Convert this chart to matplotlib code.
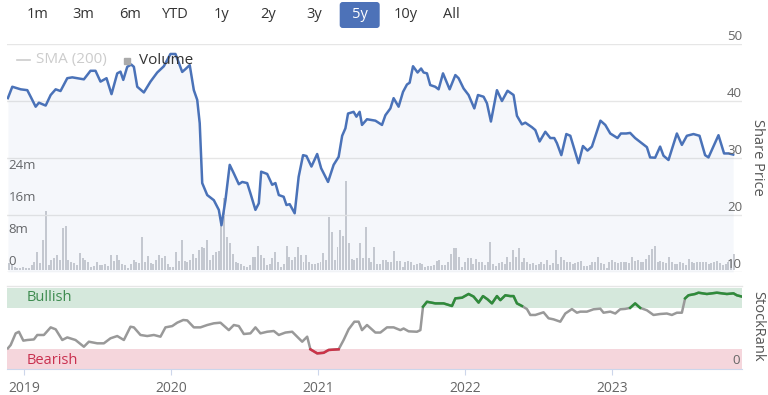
import numpy as np
import matplotlib.pyplot as plt
from matplotlib.lines import Line2D
from matplotlib.patches import FancyBboxPatch
from matplotlib.transforms import Affine2D, blended_transform_factory, offset_copy

plt.rcParams["font.family"] = ["Open Sans", "DejaVu Sans"]

RANGE_BUTTONS = ["1m", "3m", "6m", "YTD", "1y", "2y", "3y", "5y", "10y", "All"]
SELECTED_RANGE = "5y"

# share price, x in decimal years
price_years = [
    2018.891, 2018.921, 2018.978, 2019.023, 2019.046, 2019.080, 2019.102, 2019.148, 2019.182, 2019.216,
    2019.249, 2019.295, 2019.329, 2019.408, 2019.453, 2019.487, 2019.521, 2019.562, 2019.596, 2019.635,
    2019.657, 2019.676, 2019.703, 2019.730, 2019.748, 2019.771, 2019.816, 2019.861, 2019.907, 2019.952,
    2019.997, 2020.031, 2020.077, 2020.099, 2020.128, 2020.156, 2020.179, 2020.196, 2020.213, 2020.247,
    2020.292, 2020.326, 2020.344, 2020.371, 2020.400, 2020.428, 2020.462, 2020.485, 2020.519, 2020.541,
    2020.575, 2020.598, 2020.614, 2020.655, 2020.689, 2020.711, 2020.734, 2020.767, 2020.786, 2020.808,
    2020.842, 2020.869, 2020.899, 2020.922, 2020.956, 2020.995, 2021.022, 2021.069, 2021.107, 2021.141,
    2021.165, 2021.187, 2021.205, 2021.243, 2021.262, 2021.284, 2021.300, 2021.334, 2021.391, 2021.436,
    2021.459, 2021.493, 2021.515, 2021.549, 2021.579, 2021.606, 2021.624, 2021.647, 2021.678, 2021.702,
    2021.719, 2021.742, 2021.764, 2021.798, 2021.821, 2021.851, 2021.896, 2021.935, 2021.957, 2021.991,
    2022.025, 2022.064, 2022.089, 2022.127, 2022.150, 2022.177, 2022.218, 2022.252, 2022.290, 2022.331,
    2022.354, 2022.388, 2022.411, 2022.456, 2022.479, 2022.508, 2022.547, 2022.581, 2022.608, 2022.626,
    2022.656, 2022.690, 2022.717, 2022.773, 2022.803, 2022.834, 2022.864, 2022.922, 2022.955, 2022.989,
    2023.038, 2023.061, 2023.097, 2023.124, 2023.158, 2023.211, 2023.238, 2023.260, 2023.294, 2023.328,
    2023.351, 2023.385, 2023.442, 2023.476, 2023.510, 2023.555, 2023.596, 2023.634, 2023.657, 2023.725,
    2023.763, 2023.793, 2023.825,
]
price_values = [
    40.5, 42.5, 42.05, 41.9, 40.75, 39.0, 39.7, 39.2, 41.05, 42.05,
    41.75, 44.0, 44.15, 43.8, 45.3, 45.3, 43.4, 44.0, 41.2, 44.85,
    45.15, 43.7, 46.0, 46.4, 46.0, 42.5, 41.5, 43.4, 45.0, 46.1,
    48.25, 48.25, 45.1, 45.6, 46.3, 41.9, 40.2, 36.1, 25.6, 23.5,
    22.6, 20.9, 18.2, 22.6, 28.8, 27.3, 25.4, 25.8, 25.6, 23.8,
    20.9, 22.05, 27.6, 27.2, 25.3, 25.6, 23.5, 23.2, 21.75, 21.9,
    20.3, 26.7, 30.5, 30.35, 28.5, 30.7, 28.2, 25.8, 28.8, 30.2,
    33.9, 35.2, 37.8, 38.1, 37.25, 38.1, 35.8, 36.8, 36.55, 35.8,
    37.5, 38.7, 40.5, 39.0, 41.6, 42.9, 43.2, 46.1, 45.0, 45.7,
    45.0, 44.85, 42.8, 42.5, 42.05, 44.85, 42.05, 44.55, 44.0, 42.2,
    41.05, 38.7, 41.05, 40.75, 39.6, 36.4, 41.9, 40.0, 41.8, 41.05,
    37.4, 35.9, 36.2, 35.4, 34.9, 32.9, 34.6, 33.5, 33.5, 32.6,
    30.5, 34.2, 33.9, 29.1, 32.1, 31.3, 32.0, 36.55, 35.8, 34.3,
    33.5, 34.3, 34.3, 34.4, 33.5, 32.45, 31.9, 30.1, 30.05, 32.0,
    30.4, 29.65, 34.3, 32.3, 33.9, 34.2, 33.9, 30.5, 30.1, 34.0,
    30.8, 30.8, 30.6,
]

# weekly volume in millions of shares
volume_first_week = 2018.898
volume_last_week = 2023.831
volume_m = [
    1.7, 1.4, 0.8, 0.5, 0.6, 0.8, 0.6, 0.5, 1.2, 1.9, 4.6, 1.7, 7.5,
    14.8, 1.25, 2.5, 2.9, 3.75, 2.5, 10.4, 11.0, 2.5, 2.1, 1.7, 1.25,
    4.2, 3.1, 2.5, 1.9, 0.8, 1.1, 1.9, 1.25, 1.2, 1.4, 1.1, 3.75, 2.25,
    3.75, 2.5, 1.4, 1.25, 0.6, 1.4, 2.5, 1.9, 1.7, 8.3,
    2.1, 3.6, 1.7, 1.4, 2.5, 3.75, 2.9, 3.6, 1.4, 0.8, 0.8, 4.6, 2.25, 7.5,
    2.25, 1.9, 2.5, 3.9, 2.9, 5.0, 5.8, 5.6, 7.5, 2.5, 3.75, 4.4, 4.75,
    11.25, 17.9, 8.3, 6.7, 3.9, 1.9, 1.7, 1.4, 1.1, 0.8, 1.25,
    3.3, 3.3, 6.0, 3.75, 2.9, 1.25, 1.4, 2.9, 4.4, 1.9,
    0.8, 1.4, 6.0, 3.3, 2.5, 3.3, 5.7, 3.75, 1.9, 3.75,
    2.1, 1.4, 1.4, 1.7, 1.9, 4.2, 2.5, 13.2, 9.4, 2.5,
    5.8, 10.0, 8.5, 22.25,
    6.7, 2.75, 2.5, 2.9, 6.7, 2.9, 10.7, 2.9, 1.9, 5.8,
    1.4, 1.4, 2.5, 2.5, 1.9, 1.9, 4.75, 2.25, 2.25, 0.8,
    1.9, 2.25, 1.9, 1.25, 1.4, 1.7, 1.4, 0.8, 1.1, 1.1,
    1.25, 2.25, 2.5, 1.25, 1.25, 1.9, 3.9, 5.4, 5.4, 3.3,
    0.8, 1.9, 2.9, 2.9, 1.4, 2.75, 1.9, 1.9, 1.25, 1.9,
    6.9, 1.4,
    1.1, 1.7, 1.9, 1.4, 3.3, 1.9, 5.0, 3.3, 5.4, 1.9,
    2.9, 1.9, 1.4, 1.7, 1.25, 1.4, 1.9, 1.4, 2.5, 1.25,
    1.7, 5.0, 1.4, 3.3, 2.5, 1.9, 1.9, 1.4, 1.7, 1.9,
    2.25, 1.1, 1.1, 1.25, 1.9, 1.9, 3.3, 1.7, 1.4, 0.4,
    1.9, 2.5, 1.9, 1.7, 2.1, 1.9, 1.9, 1.7, 3.3, 2.25,
    2.5, 1.9, 2.1, 2.75, 3.75, 5.25, 6.0, 2.1, 2.25, 1.9,
    1.7, 3.3, 1.9, 1.4, 1.4, 1.9, 1.7, 1.25, 2.75, 1.9,
    1.7, 1.9, 1.9, 1.9, 1.9, 1.4, 1.7, 1.9, 2.25, 1.7,
    1.25, 1.4, 1.9, 2.5, 3.9,
]

# StockRank (0-100)
rank_years = [
    2018.891, 2018.910, 2018.944, 2018.966, 2018.996, 2019.023, 2019.068, 2019.091, 2019.136, 2019.182,
    2019.216, 2019.261, 2019.295, 2019.351, 2019.408, 2019.442, 2019.499, 2019.544, 2019.589, 2019.635,
    2019.680, 2019.725, 2019.748, 2019.793, 2019.839, 2019.884, 2019.929, 2019.963, 2020.009, 2020.043,
    2020.084, 2020.111, 2020.156, 2020.201, 2020.247, 2020.292, 2020.337, 2020.394, 2020.428, 2020.462,
    2020.496, 2020.541, 2020.575, 2020.609, 2020.655, 2020.700, 2020.734, 2020.779, 2020.825, 2020.859,
    2020.893, 2020.927, 2020.949, 2020.995, 2021.039, 2021.073, 2021.141, 2021.175, 2021.209, 2021.248,
    2021.277, 2021.300, 2021.334, 2021.391, 2021.425, 2021.470, 2021.515, 2021.561, 2021.583, 2021.617,
    2021.674, 2021.697, 2021.715, 2021.742, 2021.799, 2021.855, 2021.912, 2021.935, 2021.980, 2022.025,
    2022.059, 2022.093, 2022.123, 2022.154, 2022.184, 2022.218, 2022.241, 2022.275, 2022.309, 2022.331,
    2022.354, 2022.388, 2022.422, 2022.445, 2022.479, 2022.535, 2022.569, 2022.603, 2022.649, 2022.683,
    2022.728, 2022.762, 2022.785, 2022.830, 2022.875, 2022.921, 2022.943, 2022.989, 2023.023, 2023.056,
    2023.090, 2023.124, 2023.158, 2023.192, 2023.238, 2023.283, 2023.328, 2023.374, 2023.408, 2023.442,
    2023.476, 2023.498, 2023.521, 2023.566, 2023.589, 2023.646, 2023.714, 2023.782, 2023.827, 2023.850,
    2023.884,
]
rank_values = [
    25.5, 29.6, 44, 46, 35, 35.8, 36.5, 42, 42, 51.4,
    49, 35.8, 39, 35.8, 27.5, 33.7, 31.7, 31.7, 37.9, 40.7,
    35.8, 52.2, 51.4, 42, 40.7, 42, 39.9, 51.4, 53, 57.2,
    60.5, 60, 51.4, 51.4, 54.3, 56.4, 57.2, 48, 54.3, 53,
    43.2, 44, 51.4, 44, 46, 46.9, 42, 45, 46, 39.9,
    33.7, 39.9, 24.3, 19.3, 20, 23.5, 24.3, 35.8, 49, 58.4,
    58.4, 48, 54.3, 45, 45, 51.4, 51.4, 48, 50, 46.5,
    46, 48, 76.9, 83, 81, 81, 77.8, 87.2, 88, 92.6,
    89.4, 82, 90, 86, 81, 90, 85, 91, 90, 90,
    81, 77.8, 74, 66.7, 66.7, 70, 62.6, 61.3, 58.4, 68.5,
    74, 69.5, 70.8, 70.8, 73.7, 74.5, 69.5, 70.8, 68.5, 73.7,
    74.2, 75.5, 81, 75.5, 72.5, 66.7, 67.9, 68.5, 66.7, 69.5,
    69.5, 87.2, 91, 92.6, 94.2, 92.6, 94.2, 92.6, 93.4, 91,
    89.4,
]

price_ticks = [10, 20, 30, 40, 50]
volume_ticks = [0, 8, 16, 24]
year_ticks = [2019, 2020, 2021, 2022, 2023]
BULLISH_MIN = 75
BEARISH_MAX = 25

W, H = 768, 395
X_RANGE = (2018.885, 2023.885)
BLUE = "#4a72b8"
GRID = "#e6e6e6"
LABEL = "#666666"


def px_box(left, top, right, bottom):
    """Axes rectangle from pixel edges measured from the top-left corner."""
    return [left / W, 1 - bottom / H, (right - left) / W, (bottom - top) / H]


fig = plt.figure(figsize=(W / 100, H / 100), dpi=100)
px = Affine2D().scale(1 / W, -1 / H).translate(0, 1) + fig.transFigure

# range selector buttons
for i, label in enumerate(RANGE_BUTTONS):
    cx = 37.7 + 46 * i
    colour = "#333333"
    if label == SELECTED_RANGE:
        fig.add_artist(FancyBboxPatch(
            (cx - 20, 2), 40, 26, boxstyle="round,pad=0,rounding_size=3",
            transform=px, facecolor="#4d72b8", edgecolor="none",
        ))
        colour = "white"
    fig.text(cx, 15, label, transform=px, ha="center", va="center",
             fontsize=10.5, color=colour)

# price panel: volume underneath, price on top
ax_v = fig.add_axes(px_box(7, 44, 742, 272))
vol_x = np.linspace(volume_first_week, volume_last_week, len(volume_m))
ax_v.bar(vol_x, volume_m, width=0.0135, color="#cbcdd2", linewidth=0)
ax_v.set_ylim(-0.5, 56.5)
ax_v.set_xlim(*X_RANGE)
ax_v.axis("off")
vtrans = offset_copy(blended_transform_factory(ax_v.transAxes, ax_v.transData),
                     fig=fig, y=2, units="dots")
for v in volume_ticks:
    ax_v.text(0.002, v, "0" if v == 0 else f"{v}m", transform=vtrans,
              ha="left", va="bottom", fontsize=9.5, color=LABEL)

ax_p = ax_v.twinx()
ax_p.set_xlim(*X_RANGE)
ax_p.set_ylim(10, 50)
for t in price_ticks:
    ax_p.axhline(t, color=GRID, lw=1, zorder=0)
ax_p.fill_between(price_years, price_values, 10, color=BLUE, alpha=0.05, lw=0)
ax_p.plot(price_years, price_values, color=BLUE, lw=1.8, solid_joinstyle="round")
ax_p.axis("off")
ptrans = offset_copy(blended_transform_factory(ax_p.transAxes, ax_p.transData),
                     fig=fig, y=1, units="dots")
for t in price_ticks:
    ax_p.text(1.0, t, str(t), transform=ptrans, ha="right", va="bottom",
              fontsize=9.5, color=LABEL, clip_on=False)

fig.text(758, 157, "Share Price", transform=px, rotation=270,
         ha="center", va="center", fontsize=10.5, color="#555555")

# legend
fig.add_artist(Line2D([17, 30], [60, 60], transform=px, color="#cccccc", lw=1.2))
fig.text(36, 60, "SMA (200)", transform=px, ha="left", va="center",
         fontsize=11, color="#cccccc")
fig.add_artist(Line2D([126.5], [61], transform=px, marker="s", markersize=5,
                      color="#aaaaaa", lw=0))
fig.text(139, 60, "Volume", transform=px, ha="left", va="center",
         fontsize=11, color="#333333")

# StockRank panel
ax_r = fig.add_axes(px_box(7, 288, 742, 369))
ax_r.set_xlim(*X_RANGE)
ax_r.set_ylim(0, 100)
ax_r.axhspan(BULLISH_MIN, 100, color="#d5e8dc", lw=0)
ax_r.axhspan(0, BEARISH_MAX, color="#f5d6dc", lw=0)
rank = np.array(rank_values)
ax_r.plot(rank_years, rank, color="#999999", lw=1.8, solid_joinstyle="round")
ax_r.plot(rank_years, np.ma.masked_less(rank, BULLISH_MIN), color="#2e8b3a", lw=1.8)
ax_r.plot(rank_years, np.ma.masked_greater(rank, BEARISH_MAX), color="#cc3348", lw=1.8)
for side in ("top", "left", "right"):
    ax_r.spines[side].set_visible(False)
ax_r.spines["bottom"].set_color("#ccd6eb")
ax_r.set_yticks([])
ax_r.set_xticks(year_ticks)
ax_r.set_xticklabels([str(y) for y in year_ticks])
ax_r.tick_params(axis="x", length=4, color="#ccd6eb", pad=5,
                 labelsize=10, labelcolor=LABEL)
band_trans = blended_transform_factory(ax_r.transAxes, ax_r.transData)
ax_r.text(20 / 735, 88, "Bullish", transform=band_trans,
          ha="left", va="center", fontsize=10.5, color="#3d8b4f")
ax_r.text(20 / 735, 10, "Bearish", transform=band_trans,
          ha="left", va="center", fontsize=10.5, color="#c9304f")
rtrans = offset_copy(band_trans, fig=fig, x=-2, y=2, units="dots")
ax_r.text(1.0, 0, "0", transform=rtrans, ha="right", va="bottom",
          fontsize=9.5, color=LABEL)

fig.add_artist(Line2D([7, 742], [286, 286], transform=px, color=GRID, lw=1))
fig.text(758, 326, "StockRank", transform=px, rotation=270,
         ha="center", va="center", fontsize=10.5, color="#555555")

fig.savefig("out.png", dpi=100)
